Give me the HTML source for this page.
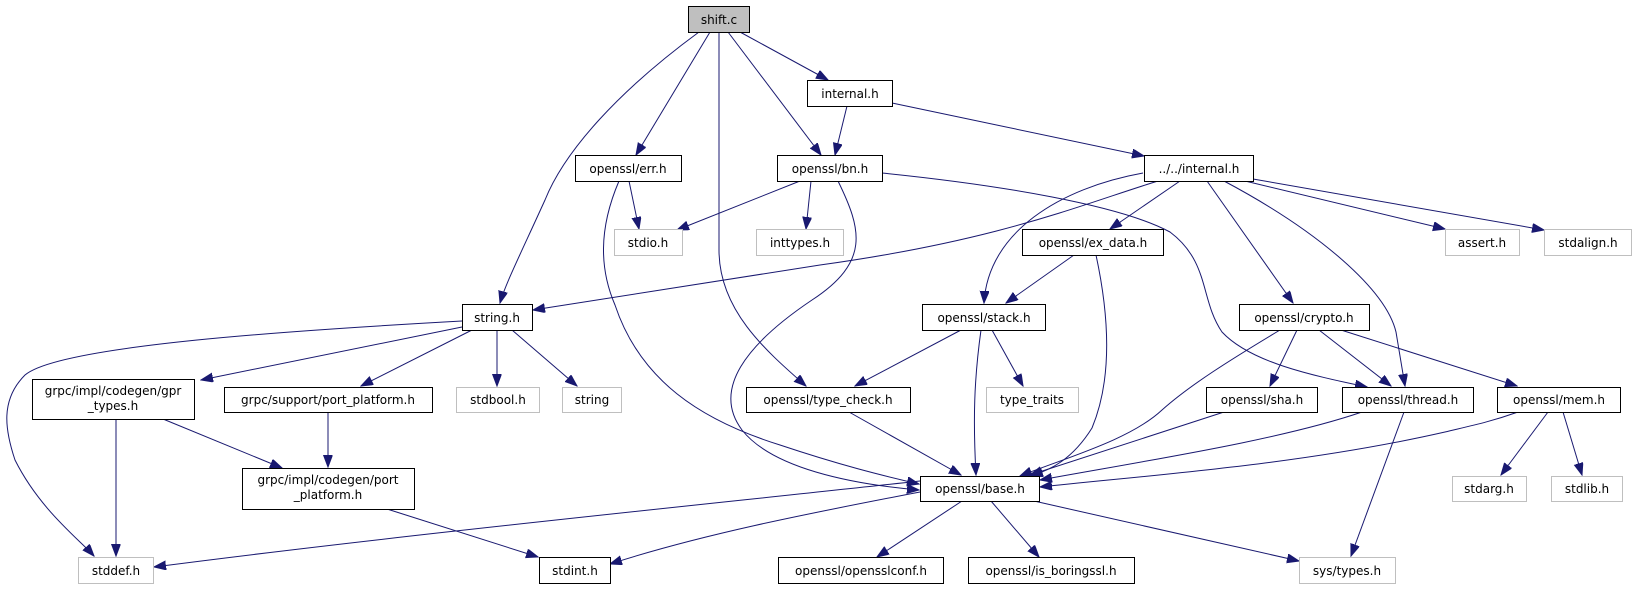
<!DOCTYPE html>
<html><head><meta charset="utf-8"><style>
html,body{margin:0;padding:0;background:#fff;}
svg{display:block;}
text{font-family:"DejaVu Sans","Liberation Sans",sans-serif;font-size:12px;fill:#000;text-anchor:middle;}
.b{fill:#fff;stroke:#000;stroke-width:1;}
.g{fill:#fff;stroke:#bfbfbf;stroke-width:1;}
.e{fill:none;stroke:#191970;stroke-width:1;}
</style></head><body>
<svg width="1633" height="589" viewBox="0 0 1633 589" xmlns="http://www.w3.org/2000/svg">
<defs>
<marker id="a" markerWidth="13" markerHeight="10" refX="12" refY="4.5" orient="auto" markerUnits="userSpaceOnUse">
<path d="M0,0 L12,4.5 L0,9 Z" fill="#191970" stroke="#191970"/>
</marker>
</defs>
<g marker-end="url(#a)">
<path class="e" d="M699,32 C620,90 565,150 545,200 C520,255 505,285 500,303"/>
<path class="e" d="M710,32 L636,155"/>
<path class="e" d="M719,32 L719,250 C719,310 765,350 806,386"/>
<path class="e" d="M728,32 L821,155"/>
<path class="e" d="M740,32 L828,80"/>
<path class="e" d="M847,106 L835,155"/>
<path class="e" d="M892,103 L1144,156"/>
<path class="e" d="M629,181 L639,229"/>
<path class="e" d="M619,181 C598,230 600,270 615,305 C640,380 700,420 780,445 C840,465 880,475 919,484"/>
<path class="e" d="M800,181 L677,230"/>
<path class="e" d="M811,181 L806,229"/>
<path class="e" d="M838,181 C862,230 870,262 812,300 C745,345 712,390 742,430 C772,468 850,484 919,490"/>
<path class="e" d="M882,173 C1000,185 1120,205 1170,232 C1210,262 1200,300 1222,332 C1250,362 1310,375 1367,387"/>
<path class="e" d="M1158,181 C1080,205 1000,240 820,265 L533,310"/>
<path class="e" d="M1143,173 C1060,188 988,232 984,303"/>
<path class="e" d="M1180,181 L1110,229"/>
<path class="e" d="M1207,181 L1293,303"/>
<path class="e" d="M1224,181 C1320,232 1386,290 1396,332 L1405,386"/>
<path class="e" d="M1245,181 L1445,229"/>
<path class="e" d="M1253,179 L1544,230"/>
<path class="e" d="M1074,255 L1006,303"/>
<path class="e" d="M1096,255 C1110,320 1112,380 1092,428 C1072,460 1050,470 1031,476"/>
<path class="e" d="M961,330 L855,386"/>
<path class="e" d="M981,330 C974,380 973,420 976,475"/>
<path class="e" d="M992,330 L1023,386"/>
<path class="e" d="M849,412 L961,475"/>
<path class="e" d="M1280,330 C1230,360 1190,385 1162,410 C1130,440 1065,458 1020,476"/>
<path class="e" d="M1297,330 L1270,386"/>
<path class="e" d="M1319,330 L1391,386"/>
<path class="e" d="M1341,330 L1517,386"/>
<path class="e" d="M1224,412 L1030,475"/>
<path class="e" d="M1362,412 C1280,440 1150,460 1040,480"/>
<path class="e" d="M1404,412 L1351,556"/>
<path class="e" d="M1518,412 C1490,422 1470,426 1445,432 C1300,465 1150,475 1040,487"/>
<path class="e" d="M1548,412 L1501,475"/>
<path class="e" d="M1563,412 L1582,475"/>
<path class="e" d="M462,321 C300,330 60,345 25,375 C0,400 5,430 15,460 C40,510 80,540 94,556"/>
<path class="e" d="M462,327 L201,380"/>
<path class="e" d="M472,330 L361,386"/>
<path class="e" d="M497,330 L497,386"/>
<path class="e" d="M512,330 L577,386"/>
<path class="e" d="M116,419 L116,556"/>
<path class="e" d="M163,419 L282,468"/>
<path class="e" d="M328,412 L328,467"/>
<path class="e" d="M387,509 L538,557"/>
<path class="e" d="M920,481 C700,505 400,535 154,567"/>
<path class="e" d="M920,492 C800,515 700,535 610,564"/>
<path class="e" d="M962,501 L877,557"/>
<path class="e" d="M991,501 L1039,557"/>
<path class="e" d="M1034,501 L1299,561"/>
</g>
<rect x="688.5" y="6.5" width="61" height="26" fill="#bfbfbf" stroke="#000"/><text x="719" y="24">shift.c</text>
<rect class="b" x="807.5" y="80.5" width="85" height="26"/><text x="850" y="98">internal.h</text>
<rect class="b" x="575.5" y="155.5" width="106" height="26"/><text x="628" y="173">openssl/err.h</text>
<rect class="b" x="777.5" y="155.5" width="105" height="26"/><text x="830" y="173">openssl/bn.h</text>
<rect class="b" x="1144.5" y="155.5" width="109" height="26"/><text x="1199" y="173">../../internal.h</text>
<rect class="g" x="614.5" y="229.5" width="68" height="26"/><text x="648" y="247">stdio.h</text>
<rect class="g" x="756.5" y="229.5" width="87" height="26"/><text x="800" y="247">inttypes.h</text>
<rect class="b" x="1022.5" y="229.5" width="141" height="26"/><text x="1093" y="247">openssl/ex_data.h</text>
<rect class="g" x="1445.5" y="229.5" width="74" height="26"/><text x="1482" y="247">assert.h</text>
<rect class="g" x="1544.5" y="229.5" width="87" height="26"/><text x="1588" y="247">stdalign.h</text>
<rect class="b" x="462.5" y="304.5" width="70" height="26"/><text x="497" y="322">string.h</text>
<rect class="b" x="922.5" y="304.5" width="123" height="26"/><text x="984" y="322">openssl/stack.h</text>
<rect class="b" x="1239.5" y="304.5" width="130" height="26"/><text x="1304" y="322">openssl/crypto.h</text>
<rect class="b" x="32.5" y="379.5" width="162" height="40"/><text x="113" y="395">grpc/impl/codegen/gpr</text><text x="113" y="410">_types.h</text>
<rect class="b" x="224.5" y="387.5" width="208" height="25"/><text x="328" y="404">grpc/support/port_platform.h</text>
<rect class="g" x="456.5" y="387.5" width="83" height="25"/><text x="498" y="404">stdbool.h</text>
<rect class="g" x="562.5" y="387.5" width="59" height="25"/><text x="592" y="404">string</text>
<rect class="b" x="746.5" y="387.5" width="164" height="25"/><text x="828" y="404">openssl/type_check.h</text>
<rect class="g" x="986.5" y="387.5" width="92" height="25"/><text x="1032" y="404">type_traits</text>
<rect class="b" x="1206.5" y="387.5" width="111" height="25"/><text x="1262" y="404">openssl/sha.h</text>
<rect class="b" x="1342.5" y="387.5" width="131" height="25"/><text x="1408" y="404">openssl/thread.h</text>
<rect class="b" x="1497.5" y="387.5" width="123" height="25"/><text x="1559" y="404">openssl/mem.h</text>
<rect class="b" x="242.5" y="468.5" width="172" height="41"/><text x="328" y="484">grpc/impl/codegen/port</text><text x="328" y="499">_platform.h</text>
<rect class="b" x="920.5" y="476.5" width="119" height="25"/><text x="980" y="493">openssl/base.h</text>
<rect class="g" x="1452.5" y="476.5" width="74" height="25"/><text x="1489" y="493">stdarg.h</text>
<rect class="g" x="1551.5" y="476.5" width="71" height="25"/><text x="1587" y="493">stdlib.h</text>
<rect class="g" x="78.5" y="557.5" width="75" height="26"/><text x="116" y="575">stddef.h</text>
<rect class="b" x="539.5" y="557.5" width="71" height="26"/><text x="575" y="575">stdint.h</text>
<rect class="b" x="778.5" y="557.5" width="165" height="26"/><text x="861" y="575">openssl/opensslconf.h</text>
<rect class="b" x="968.5" y="557.5" width="166" height="26"/><text x="1051" y="575">openssl/is_boringssl.h</text>
<rect class="g" x="1299.5" y="557.5" width="96" height="26"/><text x="1347" y="575">sys/types.h</text>
</svg>
</body></html>
